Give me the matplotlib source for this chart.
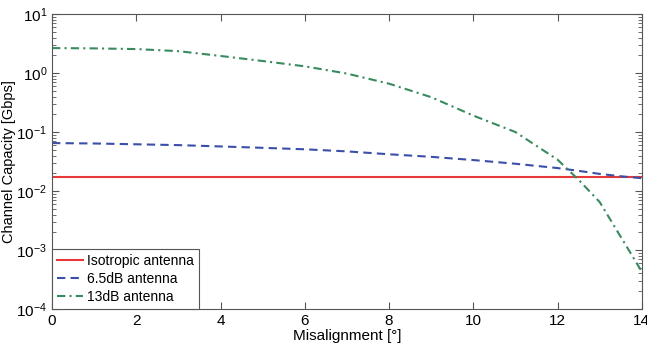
import numpy as np
import matplotlib
matplotlib.use('Agg')
from matplotlib import pyplot as plt
from matplotlib.ticker import LogLocator, NullFormatter

# misalignment angles [deg]
angles = [0, 1, 2, 3, 4, 5, 6, 7, 8, 9, 10, 11, 12, 12.5, 13, 13.5, 14]

# capacity values [Gbps]
iso_cap = [0.0173] * len(angles)
ant65_cap = [0.065, 0.064, 0.062, 0.060, 0.057, 0.054, 0.051, 0.047, 0.042,
             0.038, 0.0335, 0.029, 0.0245, 0.022, 0.0195, 0.0178, 0.0165]
ant13_cap = [2.65, 2.62, 2.55, 2.35, 1.95, 1.6, 1.3, 0.98, 0.66,
             0.39, 0.19, 0.10, 0.034, 0.0155, 0.0065, 0.00167, 0.00043]

labels = ['Isotropic antenna', '6.5dB antenna', '13dB antenna']
colors = ['#e8383a', '#3a4fa8', '#3a8a5f']

plt.rcParams['font.family'] = ['Liberation Sans', 'DejaVu Sans']

fig = plt.figure(figsize=(6.47, 3.43), dpi=100)
ax = fig.add_axes([0.0804, 0.0991, 0.9116, 0.8599])

ax.plot(angles, iso_cap, color=colors[0], linewidth=1.5, label=labels[0])
ax.plot(angles, ant65_cap, color=colors[1], linewidth=1.5,
        linestyle=(0, (4, 2.5)), label=labels[1])
ax.plot(angles, ant13_cap, color=colors[2], linewidth=1.5,
        linestyle=(0, (4, 2, 1, 2)), label=labels[2])

ax.set_yscale('log')
ax.set_xlim(0, 14)
ax.set_ylim(1e-4, 1e1)
ax.set_xticks(range(0, 15, 2))
ax.yaxis.set_major_locator(LogLocator(base=10, numticks=10))
ax.yaxis.set_minor_locator(LogLocator(base=10, subs=np.arange(2, 10), numticks=10))
ax.yaxis.set_minor_formatter(NullFormatter())

ax.tick_params(which='both', direction='in', top=True, right=True,
               labelsize=11, color='#555555')
ax.tick_params(which='major', length=5)
ax.tick_params(which='minor', length=3)
for s in ax.spines.values():
    s.set_color('#555555')

ax.set_xlabel('Misalignment [°]', fontsize=11, labelpad=1)
ax.set_ylabel('Channel Capacity [Gbps]', fontsize=10.5, labelpad=0)

leg = ax.legend(loc='lower left', fontsize=10, fancybox=False,
                edgecolor='#555555', framealpha=1, handlelength=1.9,
                borderaxespad=0, borderpad=0.35, labelspacing=0.3,
                handletextpad=0.3)
leg.get_frame().set_linewidth(0.8)

fig.savefig('out.png', dpi=100)
